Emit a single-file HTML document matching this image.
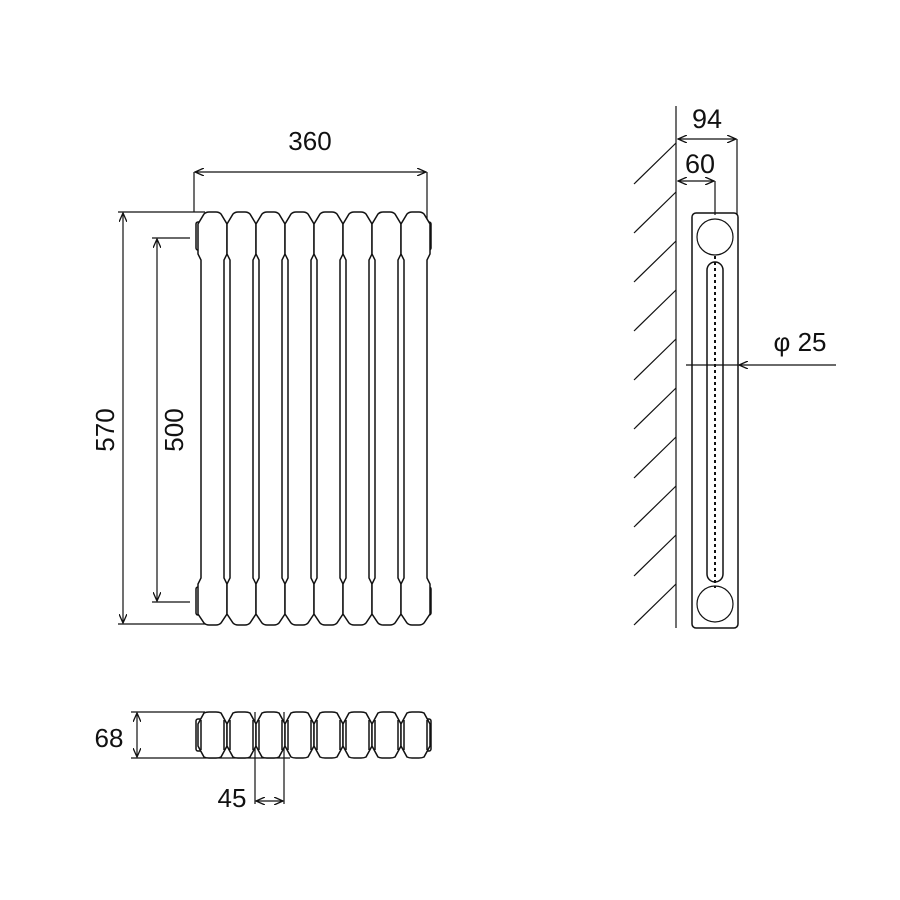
<!DOCTYPE html>
<html><head><style>html,body{margin:0;padding:0;background:#fff}svg{display:block}text{font-family:"Liberation Sans",sans-serif;fill:#111}</style></head>
<body>
<svg width="900" height="900" viewBox="0 0 900 900" xmlns="http://www.w3.org/2000/svg">
<defs>
<marker id="a" markerWidth="10" markerHeight="8" refX="9" refY="4" orient="auto-start-reverse" markerUnits="userSpaceOnUse"><path d="M0,0 L9,4 L0,8" fill="none" stroke="#111" stroke-width="1.3"/></marker>
<g id="col" fill="#fff" stroke="#111" stroke-width="1.5">
<path d="M0,12 L6,2 Q8,0 11,0 L18,0 Q21,0 23,2 L29,12 L29,42 L26,48 L26,366 L29,372 L29,402 L23,411 Q21,413 18,413 L11,413 Q8,413 6,411 L0,402 L0,372 L3,366 L3,48 L0,42 Z"/>
</g>
<g id="top" fill="#fff" stroke="#111" stroke-width="1.5">
<path d="M0,12 L6,1 Q8,0 11,0 L18,0 Q21,0 23,1 L29,12 L29,34 L23,45 Q21,46 18,46 L11,46 Q8,46 6,45 L0,34 Z"/>
<path d="M3,8 L3,38 M26,8 L26,38"/>
</g>
</defs>
<g stroke="#111" stroke-width="1.2" fill="none">
<line x1="194" y1="172" x2="194" y2="212"/><line x1="427" y1="172" x2="427" y2="240"/>
<line x1="195" y1="172" x2="426" y2="172" marker-start="url(#a)" marker-end="url(#a)"/>
<line x1="118" y1="212" x2="205" y2="212"/><line x1="118" y1="624" x2="210" y2="624"/>
<line x1="123" y1="213" x2="123" y2="623" marker-start="url(#a)" marker-end="url(#a)"/>
<line x1="152" y1="238" x2="190" y2="238"/><line x1="152" y1="602" x2="190" y2="602"/>
<line x1="157" y1="239" x2="157" y2="601" marker-start="url(#a)" marker-end="url(#a)"/>
<line x1="131" y1="712" x2="205" y2="712"/><line x1="131" y1="758" x2="290" y2="758"/>
<line x1="137" y1="713" x2="137" y2="757" marker-start="url(#a)" marker-end="url(#a)"/>
<line x1="255" y1="712" x2="255" y2="804"/><line x1="284" y1="712" x2="284" y2="804"/>
<line x1="256" y1="801" x2="283" y2="801" marker-start="url(#a)" marker-end="url(#a)"/>
</g>
<rect x="196" y="222" width="6" height="28" rx="2" fill="#fff" stroke="#111" stroke-width="1.5"/>
<rect x="196" y="587" width="6" height="28" rx="2" fill="#fff" stroke="#111" stroke-width="1.5"/>
<rect x="425" y="222" width="6" height="28" rx="2" fill="#fff" stroke="#111" stroke-width="1.5"/>
<rect x="425" y="587" width="6" height="28" rx="2" fill="#fff" stroke="#111" stroke-width="1.5"/>
<rect x="196" y="719" width="6" height="32" rx="2" fill="#fff" stroke="#111" stroke-width="1.5"/>
<rect x="425" y="719" width="6" height="32" rx="2" fill="#fff" stroke="#111" stroke-width="1.5"/>
<use href="#col" x="198" y="212"/><use href="#col" x="227" y="212"/><use href="#col" x="256" y="212"/><use href="#col" x="285" y="212"/>
<use href="#col" x="314" y="212"/><use href="#col" x="343" y="212"/><use href="#col" x="372" y="212"/><use href="#col" x="401" y="212"/>
<use href="#top" x="198" y="712"/><use href="#top" x="227" y="712"/><use href="#top" x="256" y="712"/><use href="#top" x="285" y="712"/>
<use href="#top" x="314" y="712"/><use href="#top" x="343" y="712"/><use href="#top" x="372" y="712"/><use href="#top" x="401" y="712"/>
<g stroke="#111" stroke-width="1.2" fill="none">
<line x1="676" y1="106" x2="676" y2="628"/>
<line x1="676" y1="143" x2="634" y2="184"/><line x1="676" y1="192" x2="634" y2="233"/>
<line x1="676" y1="241" x2="634" y2="282"/><line x1="676" y1="290" x2="634" y2="331"/>
<line x1="676" y1="339" x2="634" y2="380"/><line x1="676" y1="388" x2="634" y2="429"/>
<line x1="676" y1="437" x2="634" y2="478"/><line x1="676" y1="486" x2="634" y2="527"/>
<line x1="676" y1="535" x2="634" y2="576"/><line x1="676" y1="584" x2="634" y2="625"/>
<line x1="737" y1="139" x2="737" y2="215"/><line x1="715" y1="181" x2="715" y2="215"/>
<line x1="678" y1="139" x2="736" y2="139" marker-start="url(#a)" marker-end="url(#a)"/>
<line x1="678" y1="181" x2="714" y2="181" marker-start="url(#a)" marker-end="url(#a)"/>
<rect x="692" y="213" width="46" height="415" rx="4" stroke-width="1.5"/>
<circle cx="715" cy="237" r="18"/><circle cx="715" cy="604" r="18"/>
<rect x="707" y="262" width="16" height="320" rx="8" stroke-width="1.5"/>
<line x1="715" y1="256" x2="715" y2="588" stroke-dasharray="3,3" stroke-width="2"/>
<line x1="686" y1="365" x2="738" y2="365"/>
<line x1="836" y1="365" x2="739" y2="365" marker-end="url(#a)"/>
</g>
<text x="310" y="150" font-size="26" text-anchor="middle">360</text>
<text transform="translate(114,430) rotate(-90)" font-size="26" text-anchor="middle">570</text>
<text transform="translate(183,430) rotate(-90)" font-size="26" text-anchor="middle">500</text>
<text x="109" y="747" font-size="26" text-anchor="middle">68</text>
<text x="232" y="807" font-size="26" text-anchor="middle">45</text>
<text x="707" y="128" font-size="27" text-anchor="middle">94</text>
<text x="700" y="173" font-size="27" text-anchor="middle">60</text>
<text x="800" y="351" font-size="26" text-anchor="middle">φ 25</text>
</svg>
</body></html>
